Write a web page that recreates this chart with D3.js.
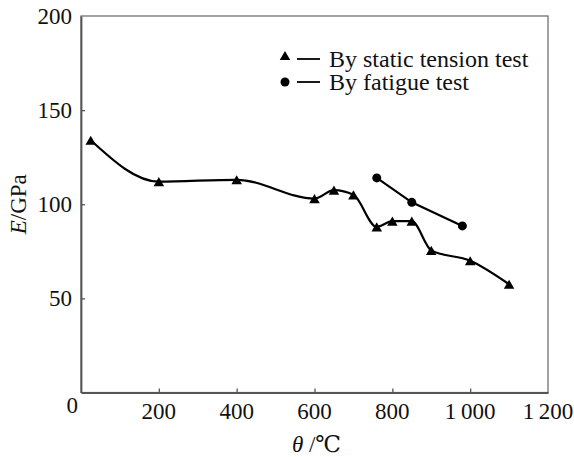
<!DOCTYPE html>
<html>
<head>
<meta charset="utf-8">
<script src="https://cdn.jsdelivr.net/npm/d3@7"></script>
<style>
  body { margin: 0; background: #fff; }
</style>
</head>
<body>
<script>
"use strict";

// values
var staticTemp = [25, 200, 400, 600, 650, 700, 760, 800, 850, 900, 1000, 1100];
var staticE    = [134, 112, 113, 103, 107.5, 105, 88, 91, 91, 75.5, 70, 57.5];
var fatigueTemp = [760, 850, 980];
var fatigueE    = [114, 101, 88.5];
var xTicks = [200, 400, 600, 800, 1000, 1200];
var xTickLabels = ["200", "400", "600", "800", "1\u2009000", "1\u2009200"];
var yTicks = [50, 100, 150, 200];
var legendLabels = ["By static tension test", "By fatigue test"];

var width = 574, height = 457;
var margin = {left: 81, right: 26, top: 16, bottom: 64.5};
var serif = "'Liberation Serif', 'DejaVu Serif', serif";

var svg = d3.select("body").append("svg")
    .attr("width", width)
    .attr("height", height)
    .attr("font-family", serif)
    .style("font-family", serif);

var x = d3.scaleLinear().domain([0, 1200]).range([margin.left, width - margin.right]);
var y = d3.scaleLinear().domain([0, 200]).range([height - margin.bottom, margin.top]);

// frame
svg.append("rect")
    .attr("x", x(0)).attr("y", y(200))
    .attr("width", x(1200) - x(0)).attr("height", y(0) - y(200))
    .attr("fill", "none").attr("stroke", "#666").attr("stroke-width", 1.2);

// axes with inward ticks
var xAxis = svg.append("g")
    .attr("transform", "translate(0," + y(0) + ")")
    .call(d3.axisBottom(x).tickValues(xTicks.slice(0, 5)).tickSizeInner(-4).tickSizeOuter(0).tickFormat(""));
var yAxis = svg.append("g")
    .attr("transform", "translate(" + x(0) + ",0)")
    .call(d3.axisLeft(y).tickValues(yTicks.slice(0, 3)).tickSizeInner(-4).tickSizeOuter(0).tickFormat(""));
[xAxis, yAxis].forEach(function(g) {
  g.select(".domain").attr("stroke", "#555").attr("stroke-width", 1.8);
  g.selectAll(".tick line").attr("stroke", "#555").attr("stroke-width", 1.3);
});

// tick labels
svg.append("g").selectAll("text")
    .data(xTicks)
    .enter().append("text")
    .attr("x", function(d) { return x(d); })
    .attr("y", y(0) + 26)
    .attr("text-anchor", "middle")
    .style("font-size", "23px")
    .attr("fill", "#111")
    .text(function(d, i) { return xTickLabels[i]; });

svg.append("g").selectAll("text")
    .data(yTicks)
    .enter().append("text")
    .attr("x", x(0) - 9)
    .attr("y", function(d) { return y(d) + 8; })
    .attr("text-anchor", "end")
    .style("font-size", "23px")
    .attr("fill", "#111")
    .text(function(d) { return d; });

svg.append("text")
    .attr("x", x(0) - 3)
    .attr("y", y(0) + 20)
    .attr("text-anchor", "end")
    .style("font-size", "23px")
    .attr("fill", "#111")
    .text("0");

// axis titles
var xt = svg.append("text")
    .attr("x", (x(0) + x(1200)) / 2 + 2)
    .attr("y", 452)
    .attr("text-anchor", "middle")
    .style("font-size", "23px")
    .attr("fill", "#111");
xt.append("tspan").style("font-style", "italic").text("\u03b8");
xt.append("tspan").text(" /\u2103");

var yt = svg.append("text")
    .attr("transform", "translate(26," + ((y(0) + y(200)) / 2) + ") rotate(-90)")
    .attr("text-anchor", "middle")
    .style("font-size", "23px")
    .attr("fill", "#111");
yt.append("tspan").style("font-style", "italic").text("E");
yt.append("tspan").text("/GPa");

// series
var line = d3.line()
    .x(function(d) { return x(d[0]); })
    .y(function(d) { return y(d[1]); })
    .curve(d3.curveMonotoneX);

var staticData = d3.zip(staticTemp, staticE);
var fatigueData = d3.zip(fatigueTemp, fatigueE);

svg.append("path").datum(staticData)
    .attr("d", line).attr("fill", "none").attr("stroke", "#000").attr("stroke-width", 2.2);
svg.append("path").datum(fatigueData)
    .attr("d", d3.line().x(function(d) { return x(d[0]); }).y(function(d) { return y(d[1]); }))
    .attr("fill", "none").attr("stroke", "#000").attr("stroke-width", 2.2);

var tri = d3.symbol().type(d3.symbolTriangle).size(48);
svg.append("g").selectAll("path")
    .data(staticData)
    .enter().append("path")
    .attr("d", tri)
    .attr("transform", function(d) { return "translate(" + x(d[0]) + "," + (y(d[1]) + 1.5) + ")"; })
    .attr("fill", "#000");

svg.append("g").selectAll("circle")
    .data(fatigueData)
    .enter().append("circle")
    .attr("cx", function(d) { return x(d[0]); })
    .attr("cy", function(d) { return y(d[1]); })
    .attr("r", 4.5)
    .attr("fill", "#000");

// legend
var legend = svg.append("g").attr("transform", "translate(285,0)");
legend.append("path").attr("d", tri).attr("transform", "translate(0,57)").attr("fill", "#000");
legend.append("circle").attr("cx", 0).attr("cy", 82).attr("r", 4.5).attr("fill", "#000");
[59, 82].forEach(function(ly, i) {
  legend.append("line")
      .attr("x1", 12).attr("x2", 35).attr("y1", ly).attr("y2", ly)
      .attr("stroke", "#000").attr("stroke-width", 1.8);
  legend.append("text")
      .attr("x", 44).attr("y", ly + 8)
      .style("font-size", "24px")
      .attr("fill", "#111")
      .text(legendLabels[i]);
});
</script>
</body>
</html>
